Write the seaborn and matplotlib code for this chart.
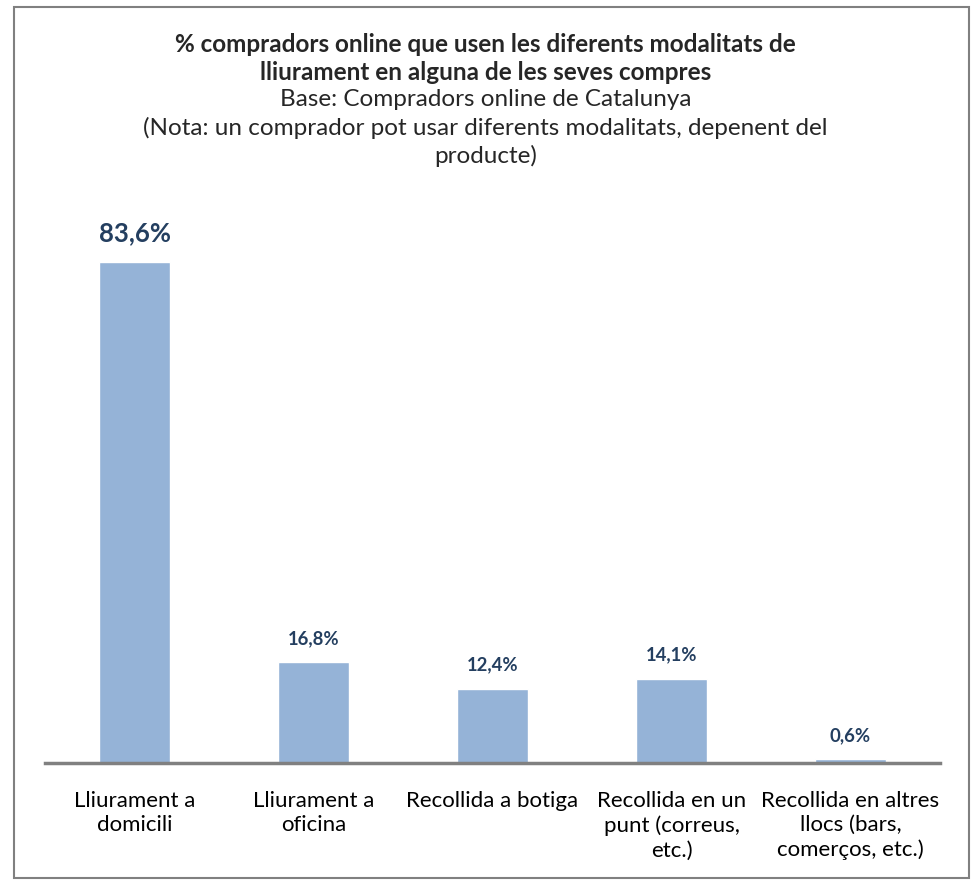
import pandas as pd
import numpy as np
import matplotlib
matplotlib.use("Agg")
import matplotlib.pyplot as plt
from matplotlib.patches import Rectangle
import seaborn as sns

categories = ["Lliurament a\ndomicili", "Lliurament a\noficina", "Recollida a botiga",
              "Recollida en un\npunt (correus,\netc.)", "Recollida en altres\nllocs (bars,\ncomerços, etc.)"]
values = [83.6, 16.8, 12.4, 14.1, 0.6]
value_labels = ["83,6%", "16,8%", "12,4%", "14,1%", "0,6%"]

title_lines = ["% compradors online que usen les diferents modalitats de",
               "lliurament en alguna de les seves compres"]
subtitle_lines = ["Base: Compradors online de Catalunya",
                  "(Nota: un comprador pot usar diferents modalitats, depenent del",
                  "producte)"]

sns.set_style("white")
plt.rcParams['font.family'] = ['Lato', 'DejaVu Sans']

df = pd.DataFrame({"cat": categories, "val": values})

fig = plt.figure(figsize=(9.71, 8.8), dpi=100)
ax = fig.add_axes([45 / 971, 1 - 763 / 880, 895 / 971, (763 - 230) / 880])

sns.barplot(data=df, x="cat", y="val", color="#95B3D7", saturation=1, width=0.40, ax=ax)
ax.set_ylim(0, (763 - 230) / 5.99)
ax.set_xlim(-0.5, len(categories) - 0.5)

for i, (v, lab) in enumerate(zip(values, value_labels)):
    big = i == 0
    ax.annotate(lab, (i, v), xytext=(0, 12 if big else 11), textcoords="offset points",
                ha="center", va="bottom", fontsize=18.5 if big else 13.3,
                fontweight="bold", color="#243F60")

ax.set_xlabel("")
ax.set_ylabel("")
ax.set_yticks([])
ax.tick_params(axis="x", length=0, labelsize=16, pad=20, colors="black")
for t in ax.get_xticklabels():
    t.set_linespacing(1.28)
for s in ["top", "right", "left"]:
    ax.spines[s].set_visible(False)
ax.spines["bottom"].set_color("#808080")
ax.spines["bottom"].set_linewidth(2.5)

# title block, one line every 28 px
for k, line in enumerate(title_lines + subtitle_lines):
    fig.text(0.5, 1 - (44 + 28 * k) / 880, line, ha="center", va="center",
             fontsize=17.5, fontweight="bold" if k < 2 else "normal")

fig.add_artist(Rectangle((14 / 971, 2 / 880), 955 / 971, 871 / 880, transform=fig.transFigure,
                         fill=False, edgecolor="#808080", linewidth=1.5))

fig.savefig("out.png", dpi=100, facecolor="white")
